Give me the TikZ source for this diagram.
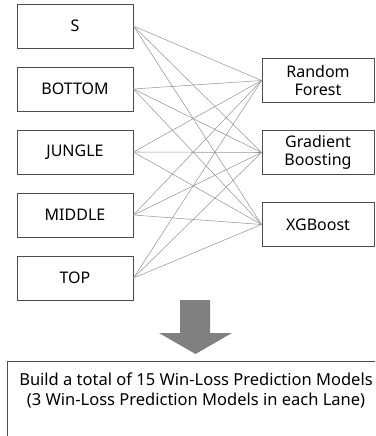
\documentclass[tikz,border=0pt]{standalone}
\usepackage{fontspec}
\setmainfont{Noto Sans}
\begin{document}
\begin{tikzpicture}[x=1pt,y=-1pt,
  box/.style={draw=black!70, line width=0.9pt, fill=white, inner sep=0pt,
    minimum width=116pt, minimum height=44pt, align=center,
    font=\fontsize{16}{18}\selectfont},
  model/.style={box, minimum width=112pt},
  link/.style={draw=black!40, line width=0.55pt},
  bigarrow/.style={fill=black!50, draw=none}]
\useasboundingbox (0,0) rectangle (375,436);
\begin{scope}
\clip (0,0) rectangle (375,436);
% lane inputs
\node[box] (s)  at (75,26)  {S};
\node[box] (b)  at (75,89)  {BOTTOM};
\node[box] (j)  at (75,152) {JUNGLE};
\node[box] (m)  at (75,215) {MIDDLE};
\node[box] (t)  at (75,278) {TOP};
% classifiers
\node[model] (rf) at (318,80.5)  {Random\\Forest};
\node[model] (gb) at (318,152.5) {Gradient\\Boosting};
\node[model] (xg) at (318,224.5) {XGBoost};
% every lane feeds every model
\foreach \l in {s,b,j,m,t}
  \foreach \r in {rf,gb,xg}
    \draw[link] (\l.east) -- (\r.west);
% block arrow
\fill[bigarrow] (180,300) -- (210,300) -- (210,333) -- (232,333) -- (195.5,354)
  -- (159,333) -- (180,333) -- cycle;
% summary box
\node[draw=black!70, line width=0.9pt, minimum width=380pt, minimum height=80pt,
  inner sep=0pt, anchor=north west] (sum) at (7,361) {};
\node[align=center, font=\fontsize{16.5}{20}\selectfont] (sumtext) at (196,390)
  {Build a total of 15 Win-Loss Prediction Models\\(3 Win-Loss Prediction Models in each Lane)};
\end{scope}
\end{tikzpicture}
\end{document}
